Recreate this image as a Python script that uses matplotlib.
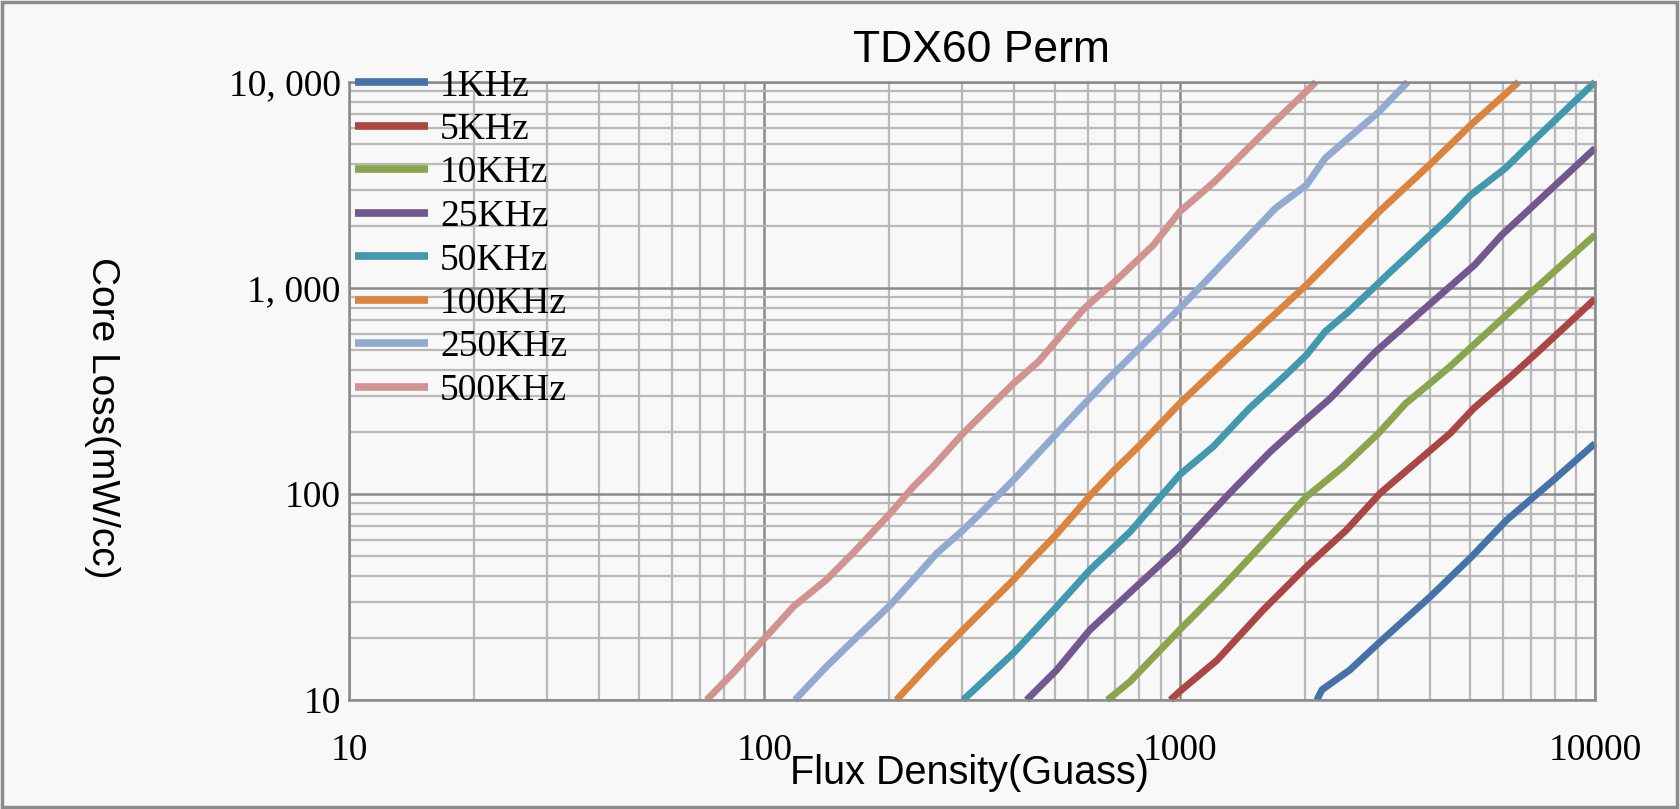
import matplotlib
matplotlib.use("Agg")
import matplotlib.pyplot as plt
from matplotlib.patches import Rectangle
from matplotlib.ticker import FixedLocator, LogLocator, NullFormatter

# series (flux density in gauss, core loss in mW/cc)
labels = ["1KHz", "5KHz", "10KHz", "25KHz", "50KHz", "100KHz", "250KHz", "500KHz"]
colors = ["#4572A7", "#AA4643", "#89A54E", "#71588F", "#4198AF", "#DB843D", "#93A9CF", "#D19392"]

b_1k = [2140, 2200, 2570, 3040, 4010, 5050, 6130, 7950, 10000]
p_1k = [10, 11.2, 14, 19.2, 31.7, 49.7, 74.8, 117, 176]

b_5k = [950, 1000, 1230, 1590, 2020, 2520, 3040, 4480, 5100, 6250, 7210, 10000]
p_5k = [10, 11, 15.6, 27.4, 44.4, 66.8, 101, 197, 260, 370, 480, 885]

b_10k = [670, 760, 1000, 1270, 1590, 2020, 2480, 3010, 3500, 4010, 4430, 7050, 10000]
p_10k = [10, 12.3, 21.9, 35.5, 57.7, 97, 136, 197, 275, 345, 408, 960, 1810]

b_25k = [428, 506, 608, 780, 1000, 1320, 1650, 1985, 2300, 2960, 5130, 5960, 10000]
p_25k = [10, 14, 21.9, 35, 55.5, 101, 160, 224, 290, 490, 1294, 1807, 4765]

b_50k = [301, 398, 506, 608, 760, 1000, 1205, 1470, 1780, 2020, 2240, 2550, 3220,
         4430, 5020, 6080, 7210, 10000]
p_50k = [10, 16.9, 28.4, 42.8, 65.6, 124, 170, 260, 370, 473, 614, 767, 1200,
         2178, 2826, 3810, 5330, 10000]

b_100k = [208, 255, 301, 398, 437, 506, 608, 692, 803, 1000, 1410, 2020, 3020, 4070, 5020, 6550]
p_100k = [10, 15.6, 21.9, 38.3, 47, 64, 98, 129, 173, 275, 529, 1035, 2345, 4100, 6180, 10000]

b_250k = [118.5, 141, 164, 201, 228, 260, 301, 331, 398, 506, 565, 668, 1000, 1700,
          2020, 2240, 3020, 3540]
p_250k = [10, 14.5, 19.5, 28.9, 38.3, 51.5, 66.8, 80.5, 117, 197, 250, 357, 796, 2437,
          3162, 4265, 7180, 10000]

b_500k = [72.6, 84, 101, 117.5, 141, 164, 201, 228, 255, 301, 398, 457, 589, 698, 865,
          1000, 1213, 1633, 2128]
p_500k = [10, 13.5, 20.3, 28.4, 38.3, 52, 80.5, 108, 136, 197, 344, 439, 796, 1074, 1618,
          2345, 3280, 5960, 10000]

series = [(b_1k, p_1k), (b_5k, p_5k), (b_10k, p_10k), (b_25k, p_25k),
          (b_50k, p_50k), (b_100k, p_100k), (b_250k, p_250k), (b_500k, p_500k)]

x_ticks = [10, 100, 1000, 10000]
x_ticklabels = ["10", "100", "1000", "10000"]
y_ticks = [10, 100, 1000, 10000]
y_ticklabels = ["10", "100", "1, 000", "10, 000"]

bg = "#f8f8f8"
serif = ["Liberation Serif", "DejaVu Serif"]
sans = ["Liberation Sans", "DejaVu Sans"]

fig = plt.figure(figsize=(16.8, 8.09), dpi=100, facecolor=bg)
ax = fig.add_axes([349 / 1680, 109 / 809, 1246 / 1680, 618 / 809])
ax.set_facecolor(bg)
ax.set_xscale("log")
ax.set_yscale("log")
ax.set_xlim(10, 10000)
ax.set_ylim(10, 10000)

ax.xaxis.set_major_locator(FixedLocator(x_ticks))
ax.yaxis.set_major_locator(FixedLocator(y_ticks))
ax.xaxis.set_minor_locator(LogLocator(base=10, subs=range(2, 10)))
ax.yaxis.set_minor_locator(LogLocator(base=10, subs=range(2, 10)))
ax.xaxis.set_minor_formatter(NullFormatter())
ax.yaxis.set_minor_formatter(NullFormatter())
ax.set_xticklabels(x_ticklabels, fontfamily=serif, fontsize=27)
ax.set_yticklabels(y_ticklabels, fontfamily=serif, fontsize=27)
ax.tick_params(which="both", length=0)
ax.tick_params(axis="x", pad=24)
ax.tick_params(axis="y", pad=6)

ax.grid(which="minor", color="#b8b8b8", lw=1.6)
ax.grid(which="major", color="#8a8a8a", lw=1.8)
ax.set_axisbelow(True)
for sp in ax.spines.values():
    sp.set_color("#8a8a8a")
    sp.set_linewidth(1.8)

for (b, p), lab, c in zip(series, labels, colors):
    ax.plot(b, p, color=c, lw=5, label=lab, clip_on=False, solid_capstyle="butt",
            solid_joinstyle="round")

leg = ax.legend(loc="upper left", bbox_to_anchor=(355 / 1680, 1 - 69 / 809),
                bbox_transform=fig.transFigure, frameon=False, borderpad=0,
                borderaxespad=0, handlelength=1.95, handletextpad=0.32,
                labelspacing=0.24, prop={"family": serif, "size": 27})
for h in leg.get_lines():
    h.set_linewidth(5.5)

fig.text(981 / 1680, 1 - 50 / 809, "TDX60 Perm", fontfamily=sans, fontsize=32,
         ha="center", va="center")
fig.text(970 / 1680, 1 - 773 / 809, "Flux Density(Guass)", fontfamily=sans, fontsize=28.5,
         ha="center", va="center")
fig.text(102 / 1680, 1 - 418 / 809, "Core Loss(mW/cc)", fontfamily=sans, fontsize=28,
         ha="center", va="center", rotation=-90)

# outer frame
fig.patches.append(Rectangle((0.001, 0.002), 0.997, 0.996, transform=fig.transFigure,
                             fill=False, edgecolor="#8c8c8c", lw=2.5))

fig.savefig("out.png", dpi=100, facecolor=bg)
